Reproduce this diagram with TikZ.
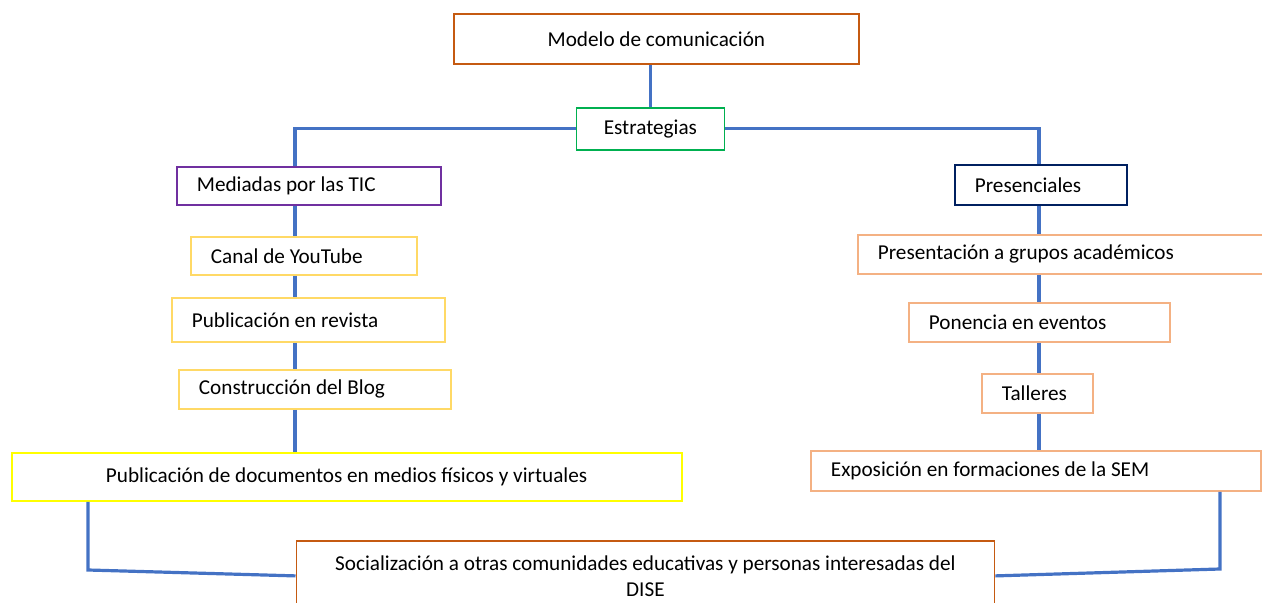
\documentclass[tikz,border=0pt]{standalone}
\usepackage{fontspec}
\setmainfont{Carlito}
\usetikzlibrary{calc}
\usetikzlibrary{positioning}
\definecolor{boxBrown}{HTML}{C55A11}
\definecolor{boxGreen}{HTML}{00B050}
\definecolor{boxPurple}{HTML}{7030A0}
\definecolor{boxNavy}{HTML}{002060}
\definecolor{boxGold}{HTML}{FFD966}
\definecolor{boxYellow}{HTML}{FFFF00}
\definecolor{boxPeach}{HTML}{F4B183}
\definecolor{linkBlue}{HTML}{4472C4}
\tikzset{every picture/.style={semithick}}
\tikzstyle{block}=[draw,line width=0.9pt,anchor=north west,inner ysep=0pt]
\tikzstyle{lblock}=[block,align=flush left,inner xsep=10pt]
\tikzstyle{link}=[draw=linkBlue,line width=1.6pt]
\begin{document}
\begin{tikzpicture}[x=0.5pt,y=-0.5pt,font=\fontsize{10.6}{13}\selectfont]
        \useasboundingbox (0,0) rectangle (1262,603);
        % upper levels
        \node [block,draw=boxBrown,minimum width=202.5pt,minimum height=25pt] (modelo) at (453,13) {Modelo de comunicación};
        \node [block,draw=boxGreen,minimum width=74pt,minimum height=21pt] (estr) at (575.5,107) {Estrategias};
        \node [lblock,draw=boxPurple,text width=112pt,minimum height=19pt] (tic) at (176,166) {Mediadas por las TIC};
        \node [lblock,draw=boxNavy,text width=66pt,minimum height=20pt] (pres) at (954,164) {Presenciales};
        % left branch
        \node [lblock,draw=boxGold,text width=93pt,minimum height=19pt] (canal) at (190,236) {Canal de YouTube};
        \node [lblock,draw=boxGold,text width=116.5pt,minimum height=22pt] (revista) at (171,297) {Publicación en revista};
        \node [lblock,draw=boxGold,text width=116pt,minimum height=19.5pt] (blog) at (178,369) {Construcción del Blog};
        \node [block,draw=boxYellow,minimum width=335pt,minimum height=24pt] (docs) at (10.7,452) {Publicación de documentos en medios físicos y virtuales};
        % right branch
        \node [lblock,draw=boxPeach,text width=190pt,minimum height=19.5pt] (grupos) at (857,234) {Presentación a grupos académicos};
        \node [lblock,draw=boxPeach,text width=110.5pt,minimum height=19.5pt] (ponencia) at (908,302) {Ponencia en eventos};
        \node [lblock,draw=boxPeach,text width=35.5pt,minimum height=19.5pt] (talleres) at (981,373) {Talleres};
        \node [lblock,draw=boxPeach,text width=205pt,minimum height=20pt] (expo) at (810,450) {Exposición en formaciones de la SEM};
        % bottom
        \node [block,draw=boxBrown,minimum width=349pt,minimum height=35pt,align=center] (soc) at (295.5,540) {Socialización a otras comunidades educativas y personas interesadas del\\DISE};
        \coordinate (ltrunk) at (295,0);
        \coordinate (rtrunk) at (1039,0);
        \coordinate (lfoot) at (88,570);
        \coordinate (rfoot) at (1220,569);
        \draw [link] (modelo.south -| estr.north) -- (estr.north);
        \draw [link] (estr.west) -- (estr.west -| ltrunk) -- (tic.north -| ltrunk);
        \draw [link] (estr.east) -- (estr.east -| rtrunk) -- (pres.north -| rtrunk);
        \draw [link] (tic.south -| ltrunk) -- (canal.north -| ltrunk);
        \draw [link] (canal.south -| ltrunk) -- (revista.north -| ltrunk);
        \draw [link] (revista.south -| ltrunk) -- (blog.north -| ltrunk);
        \draw [link] (blog.south -| ltrunk) -- (docs.north -| ltrunk);
        \draw [link] (pres.south -| rtrunk) -- (grupos.north -| rtrunk);
        \draw [link] (grupos.south -| rtrunk) -- (ponencia.north -| rtrunk);
        \draw [link] (ponencia.south -| rtrunk) -- (talleres.north -| rtrunk);
        \draw [link] (talleres.south -| rtrunk) -- (expo.north -| rtrunk);
        \draw [link] (docs.south -| lfoot) -- (lfoot) -- (soc.west);
        \draw [link] (expo.south -| rfoot) -- (rfoot) -- (soc.east);
\end{tikzpicture}
\end{document}
